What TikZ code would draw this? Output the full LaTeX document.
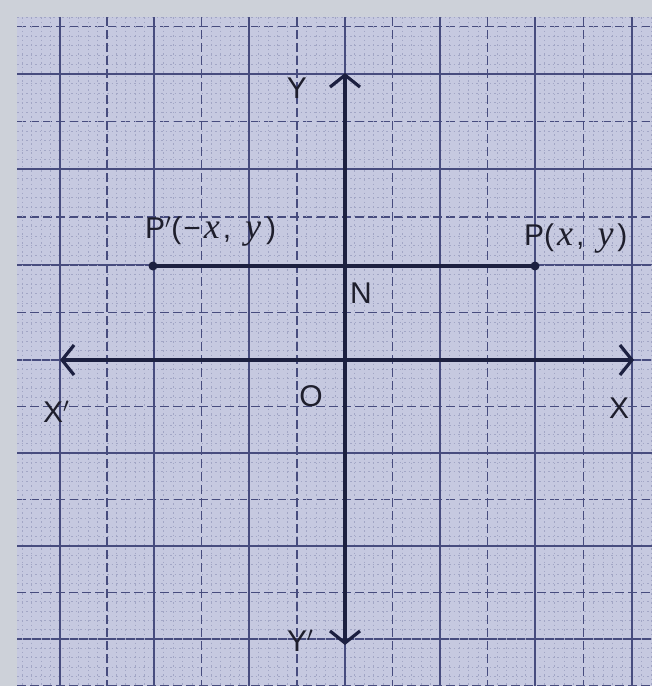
\documentclass[tikz,border=0pt]{standalone}
\usepackage{fontspec}
\setmainfont{Liberation Sans}
\newfontfamily\varfont{Liberation Serif}
\usetikzlibrary{arrows.meta}
\definecolor{outside}{HTML}{CDD1D9}
\definecolor{paper}{HTML}{C6C9E0}
\definecolor{gridc}{HTML}{474C7E}
\definecolor{axisc}{HTML}{1C2040}
\definecolor{textc}{HTML}{1E1E2C}
\newcommand{\vv}[1]{{\fontsize{36}{40}\selectfont\varfont\itshape #1}}
\tikzset{
  major/.style={draw=gridc, line width=1.7pt},
  half/.style={draw=gridc, line width=1.3pt, dash pattern=on 9pt off 4pt},
  minor/.style={draw=gridc!28!paper, line width=0.7pt, dash pattern=on 1.5pt off 3pt},
  axis/.style={draw=axisc, line width=3.4pt, {Straight Barb[length=12pt,width=30pt,line width=3.2pt]}-{Straight Barb[length=12pt,width=30pt,line width=3.2pt]}},
  seg/.style={draw=axisc, line width=4pt},
  dotc/.style={circle, fill=axisc, inner sep=0pt, minimum size=9pt},
  lbl/.style={text=textc, font=\fontsize{30}{36}\selectfont, inner sep=0pt}
}
\begin{document}
\begin{tikzpicture}[x=1pt,y=-1pt]
\useasboundingbox (0,0) rectangle (652,686);
\fill[outside] (0,0) rectangle (652,686);
\fill[paper] (17,17) rectangle (652,686);
\begin{scope}
\clip (17,17) rectangle (652,686);
% horizontal grid lines
\foreach \a/\b in {-21/74, 74/169, 169/265, 265/360, 360/453, 453/546, 546/639, 639/732}{
  \foreach \k in {1,2,3,4,6,7,8,9}{
    \draw[minor] (17,{\a+\k*(\b-\a)/10}) -- (652,{\a+\k*(\b-\a)/10});
  }
  \draw[half] (17,{(\a+\b)/2}) -- (652,{(\a+\b)/2});
  \draw[major] (17,\a) -- (652,\a);
}
% vertical grid lines
\foreach \a/\b in {-35/60, 60/154, 154/249, 249/345, 345/440, 440/535, 535/632, 632/727}{
  \foreach \k in {1,2,3,4,6,7,8,9}{
    \draw[minor] ({\a+\k*(\b-\a)/10},17) -- ({\a+\k*(\b-\a)/10},686);
  }
  \draw[half] ({(\a+\b)/2},17) -- ({(\a+\b)/2},686);
  \draw[major] (\a,17) -- (\a,686);
}
\end{scope}
% axes
\coordinate (Xw) at (60,360);
\coordinate (Xe) at (634,360);
\coordinate (Yn) at (345,73);
\coordinate (Ys) at (345,645);
\draw[axis] (Xw) -- (Xe);
\draw[axis] (Ys) -- (Yn);
% points
\node[dotc] (Pp) at (153,266) {};
\node[dotc] (P) at (535,266) {};
\draw[seg] (Pp.center) -- (P.center);
% labels
\node[lbl, anchor=base west] (lPp) at (145,238) {P$'$(\kern2pt−\kern3pt\vv{x}\kern3pt,\kern14pt\vv{y}\kern5pt)};
\node[lbl, anchor=base west] (lP) at (524,245) {P(\kern3pt\vv{x}\kern3pt,\kern13pt\vv{y}\kern4pt)};
\node[lbl, anchor=base] (lY) at (297,98) {Y};
\node[lbl, anchor=base west] (lN) at (350,303) {N};
\node[lbl, anchor=base] (lO) at (311,406) {O};
\node[lbl, anchor=base west] (lXp) at (43,422) {X$'$};
\node[lbl, anchor=base] (lX) at (619,418) {X};
\node[lbl, anchor=base west] (lYp) at (287,651) {Y$'$};
\end{tikzpicture}
\end{document}
